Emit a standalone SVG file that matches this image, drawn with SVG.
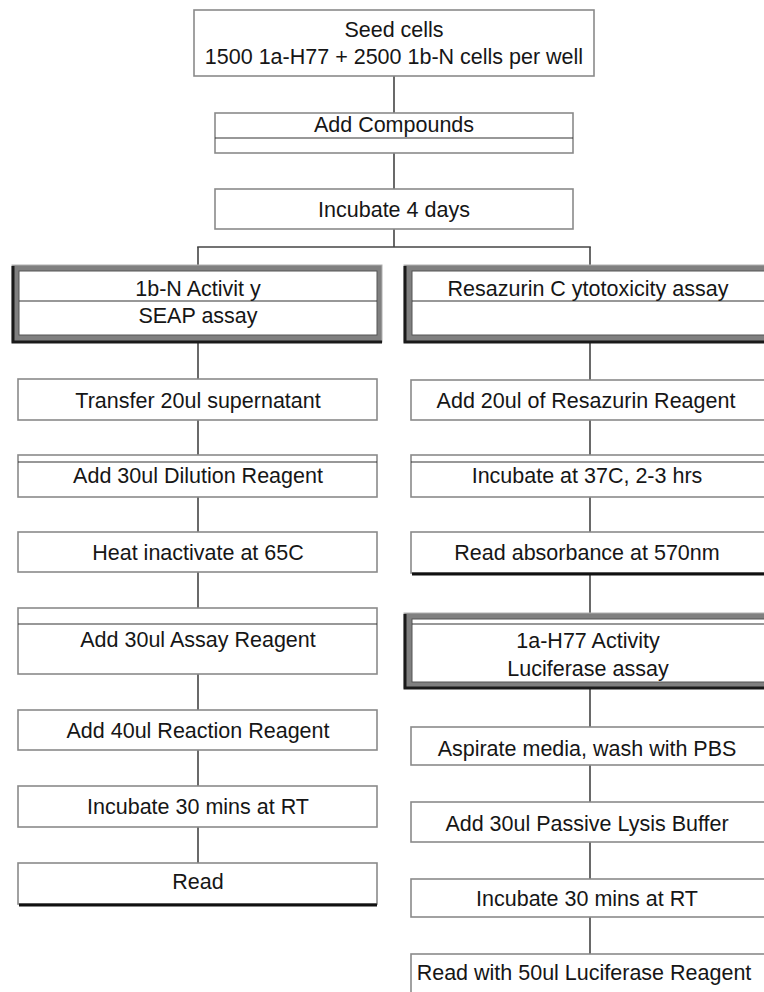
<svg xmlns="http://www.w3.org/2000/svg" width="764" height="992" viewBox="0 0 764 992">
<style>
.box{fill:#fff;stroke:#8a8a8a;stroke-width:1.6}
.div{stroke:#333;stroke-width:1.2;fill:none}
.heavy{fill:#808080;stroke:#b0b0b0;stroke-width:1}
.shadow{fill:none;stroke:#1a1a1a;stroke-width:3}
.inner{fill:#fff;stroke:#555;stroke-width:1}
.bot{stroke:#111;stroke-width:3}
.t{font-family:"Liberation Sans",Arial,sans-serif;font-size:21.5px;fill:#161616;text-anchor:middle}
#connectors line{stroke:#444;stroke-width:1.6}
</style>
<rect width="764" height="992" fill="#fff"/>
<g id="connectors">
<line x1="394" y1="76" x2="394" y2="113"/>
<line x1="394" y1="153" x2="394" y2="189"/>
<line x1="394" y1="229" x2="394" y2="247"/>
<line x1="197.2" y1="247" x2="590.8" y2="247"/>
<line x1="198" y1="247" x2="198" y2="265"/>
<line x1="590" y1="247" x2="590" y2="265"/>
<line x1="198" y1="343" x2="198" y2="379"/>
<line x1="198" y1="420" x2="198" y2="455"/>
<line x1="198" y1="497" x2="198" y2="532"/>
<line x1="198" y1="572" x2="198" y2="608"/>
<line x1="198" y1="674" x2="198" y2="710"/>
<line x1="198" y1="750" x2="198" y2="786"/>
<line x1="198" y1="827" x2="198" y2="863"/>
<line x1="590" y1="343" x2="590" y2="380"/>
<line x1="590" y1="420" x2="590" y2="455"/>
<line x1="590" y1="497" x2="590" y2="532"/>
<line x1="590" y1="574" x2="590" y2="613"/>
<line x1="590" y1="689" x2="590" y2="727"/>
<line x1="590" y1="765" x2="590" y2="802"/>
<line x1="590" y1="842" x2="590" y2="879"/>
<line x1="590" y1="917" x2="590" y2="954"/>
</g>
<g id="seed">
<rect class="box" x="194" y="10" width="400" height="66"/>
<text class="t" x="394" y="37">Seed cells</text>
<text class="t" x="394" y="64">1500 1a-H77 + 2500 1b-N cells per well</text>
</g>
<g id="compounds">
<rect class="box" x="215" y="113" width="358" height="40"/>
<line class="div" x1="215" y1="138" x2="573" y2="138"/>
<text class="t" x="394" y="132">Add Compounds</text>
</g>
<g id="incubate4">
<rect class="box" x="215" y="189" width="358" height="40"/>
<text class="t" x="394" y="217">Incubate 4 days</text>
</g>
<g id="seap">
<rect class="heavy" x="12" y="265" width="370" height="77"/>
<path class="shadow" d="M13 266 V342 H382"/>
<rect class="inner" x="19" y="271" width="358" height="64"/>
<line class="div" x1="19" y1="301" x2="377" y2="301"/>
<text class="t" x="198" y="296">1b-N Activit y</text>
<text class="t" x="198" y="323">SEAP assay</text>
</g>
<g id="resazurin">
<rect class="heavy" x="404" y="265" width="380" height="77"/>
<path class="shadow" d="M405 266 V342 H790"/>
<rect class="inner" x="412" y="271" width="380" height="64"/>
<line class="div" x1="412" y1="301" x2="790" y2="301"/>
<text class="t" x="588" y="296">Resazurin C ytotoxicity assay</text>
</g>
<g id="transfer">
<rect class="box" x="18" y="379" width="359" height="41"/>
<text class="t" x="198" y="408">Transfer 20ul supernatant</text>
</g>
<g id="dilution">
<rect class="box" x="18" y="455" width="359" height="42"/>
<line class="div" x1="18" y1="462" x2="377" y2="462"/>
<text class="t" x="198" y="483">Add 30ul Dilution Reagent</text>
</g>
<g id="heat">
<rect class="box" x="18" y="532" width="359" height="40"/>
<text class="t" x="198" y="560">Heat inactivate at 65C</text>
</g>
<g id="assay">
<rect class="box" x="18" y="608" width="359" height="66"/>
<line class="div" x1="18" y1="624" x2="377" y2="624"/>
<text class="t" x="198" y="647">Add 30ul Assay Reagent</text>
</g>
<g id="reaction">
<rect class="box" x="18" y="710" width="359" height="40"/>
<text class="t" x="198" y="738">Add 40ul Reaction Reagent</text>
</g>
<g id="incubate30L">
<rect class="box" x="18" y="786" width="359" height="41"/>
<text class="t" x="198" y="814">Incubate 30 mins at RT</text>
</g>
<g id="readL">
<rect class="box" x="18" y="863" width="359" height="41"/>
<line class="bot" x1="19" y1="905" x2="377" y2="905"/>
<text class="t" x="198" y="889">Read</text>
</g>
<g id="resReagent">
<rect class="box" x="411" y="380" width="370" height="40"/>
<text class="t" x="586" y="408">Add 20ul of Resazurin Reagent</text>
</g>
<g id="incubate37">
<rect class="box" x="411" y="455" width="370" height="42"/>
<line class="div" x1="411" y1="462" x2="781" y2="462"/>
<text class="t" x="587" y="483">Incubate at 37C, 2-3 hrs</text>
</g>
<g id="readAbs">
<rect class="box" x="411" y="532" width="370" height="41"/>
<line class="bot" x1="412" y1="574" x2="781" y2="574"/>
<text class="t" x="587" y="560">Read absorbance at 570nm</text>
</g>
<g id="luciferase">
<rect class="heavy" x="404" y="613" width="380" height="75"/>
<path class="shadow" d="M405 614 V688 H790"/>
<rect class="inner" x="412" y="619" width="380" height="63"/>
<line class="div" x1="412" y1="624" x2="790" y2="624"/>
<text class="t" x="588" y="648">1a-H77 Activity</text>
<text class="t" x="588" y="676">Luciferase assay</text>
</g>
<g id="aspirate">
<rect class="box" x="411" y="727" width="370" height="38"/>
<text class="t" x="587" y="756">Aspirate media, wash with PBS</text>
</g>
<g id="lysis">
<rect class="box" x="411" y="802" width="370" height="40"/>
<text class="t" x="587" y="831">Add 30ul Passive Lysis Buffer</text>
</g>
<g id="incubate30R">
<rect class="box" x="411" y="879" width="370" height="38"/>
<text class="t" x="587" y="906">Incubate 30 mins at RT</text>
</g>
<g id="readLuc">
<rect class="box" x="411" y="954" width="370" height="60"/>
<text class="t" x="584" y="980">Read with 50ul Luciferase Reagent</text>
</g>
</svg>
